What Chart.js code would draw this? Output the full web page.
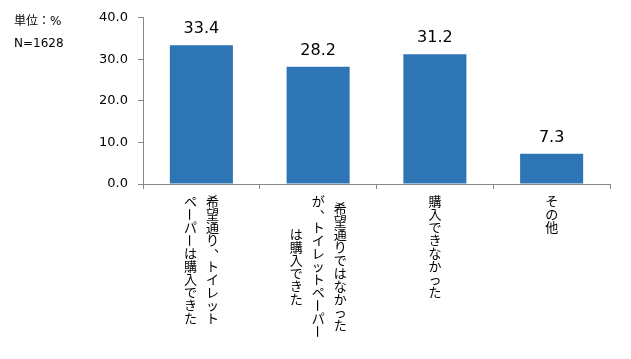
<!DOCTYPE html>
<html>
<head>
<meta charset="utf-8">
<script src="https://cdn.jsdelivr.net/npm/chart.js@4"></script>
<style>
  html, body { margin: 0; padding: 0; background: #fff; }
  #wrap { position: relative; width: 631px; height: 359px; }
  .note { position: absolute; left: 14px; font: 12px "DejaVu Sans", "Noto Sans CJK JP", sans-serif; color: #000; }
</style>
</head>
<body>
<div id="wrap">
  <canvas id="chart" width="631" height="359"></canvas>
  <div class="note" style="top:11px">単位：%</div>
  <div class="note" style="top:36px">N=1628</div>
</div>
<script>
// category labels, one entry per vertical line (right to left)
const categories = [
  ['希望通り、トイレット', 'ペーパーは購入できた'],
  ['希望通りではなかった', 'が、トイレットペーパー', 'は購入できた'],
  ['購入できなかった'],
  ['その他']
];
const values = [33.4, 28.2, 31.2, 7.3];
const yTicks = [0, 10, 20, 30, 40];

const AXIS = '#868686';
const BAR = '#2E75B6';

// draws value labels above bars and vertical (tategaki) category labels
const labelPlugin = {
  id: 'labels',
  afterDatasetsDraw(chart) {
    const ctx = chart.ctx;
    const meta = chart.getDatasetMeta(0);
    ctx.save();
    ctx.fillStyle = '#000';
    ctx.font = '16px "DejaVu Sans", sans-serif';
    ctx.textAlign = 'center';
    ctx.textBaseline = 'alphabetic';
    meta.data.forEach((bar, i) => {
      ctx.fillText(values[i].toFixed(1), bar.x, bar.y - 12);
    });

    const xs = chart.scales.x;
    const top = chart.chartArea.bottom + 11;
    const pitch = 13;
    const lineGap = 22;
    ctx.font = '13px "Noto Sans CJK JP", sans-serif';
    ctx.textBaseline = 'middle';
    categories.forEach((lines, i) => {
      const cx = xs.getPixelForValue(i);
      const n = lines.length;
      const maxLen = Math.max(...lines.map(l => [...l].length));
      lines.forEach((line, j) => {
        const chars = [...line];
        const x = cx + (n - 1) / 2 * lineGap - j * lineGap;
        const y0 = top + (maxLen - chars.length) / 2 * pitch;
        chars.forEach((ch, k) => {
          const y = y0 + k * pitch + pitch / 2;
          if (ch === 'ー') {
            ctx.save();
            ctx.translate(x, y);
            ctx.rotate(Math.PI / 2);
            ctx.fillText(ch, 0, 0);
            ctx.restore();
          } else if (ch === '、') {
            ctx.fillText(ch, x + 8, y - 7);
          } else {
            ctx.fillText(ch, x, y);
          }
        });
      });
    });
    ctx.restore();
  }
};

new Chart(document.getElementById('chart'), {
  type: 'bar',
  data: {
    labels: categories.map(c => c.join('')),
    datasets: [{
      data: values,
      backgroundColor: BAR,
      borderWidth: 0,
      categoryPercentage: 1,
      barPercentage: 0.54
    }]
  },
  options: {
    responsive: false,
    animation: false,
    layout: { padding: { top: 16, right: 21, left: 0, bottom: 0 } },
    plugins: {
      legend: { display: false },
      tooltip: { enabled: false }
    },
    scales: {
      x: {
        grid: { drawOnChartArea: false, drawTicks: true, tickLength: 5, color: AXIS, offset: true },
        border: { color: AXIS },
        ticks: { display: false },
        afterFit(scale) { scale.height = 175; }
      },
      y: {
        min: 0,
        max: 40,
        afterBuildTicks(scale) { scale.ticks = yTicks.map(v => ({ value: v })); },
        grid: { drawOnChartArea: false, drawTicks: true, tickLength: 5, color: AXIS },
        border: { color: AXIS },
        ticks: {
          padding: 10,
          color: '#000',
          font: { family: '"DejaVu Sans", sans-serif', size: 13 },
          callback: v => v.toFixed(1)
        },
        afterFit(scale) { scale.width = 143; }
      }
    }
  },
  plugins: [labelPlugin]
});
</script>
</body>
</html>
